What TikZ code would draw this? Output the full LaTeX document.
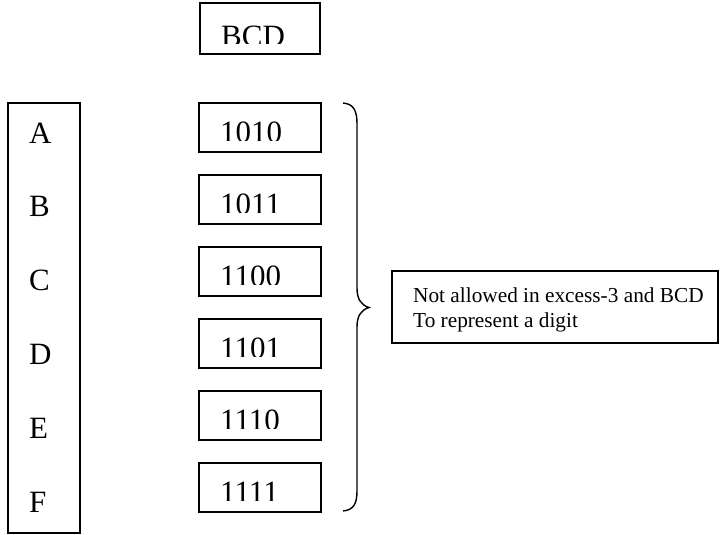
\documentclass[tikz,border=0pt]{standalone}
\usepackage{fontspec}
\setmainfont{Liberation Serif}
\begin{document}
\begin{tikzpicture}[x=1pt,y=-1pt,
  box/.style={draw,line width=1.4pt,rectangle,inner sep=0pt},
  bigtxt/.style={anchor=base west,inner sep=0pt,font=\fontsize{31}{37}\selectfont},
  smalltxt/.style={anchor=base west,inner sep=0pt,font=\fontsize{21.3}{25}\selectfont}]
\useasboundingbox (0,0) rectangle (720,535);
% BCD header box
\node[box,minimum width=120pt,minimum height=51pt] (bcdbox) at (260,28.5) {};
\begin{scope}
  \clip (200,3) rectangle (320,44);
  \node[bigtxt] (bcd) at (221,46.5) {BCD};
\end{scope}
% left letter column
\node[box,minimum width=72pt,minimum height=430pt] (letters) at (44,318) {};
\foreach \L [count=\i from 0] in {A,B,C,D,E,F}{
  \node[bigtxt] (let\L) at (29,143+73.8*\i) {\L};
}
% code boxes
\foreach \c/\t [count=\i] in {1010/103,1011/175,1100/247,1101/319,1110/391,1111/463}{
  \node[box,minimum width=122pt,minimum height=49pt] (code\i) at (260,\t+24.5) {};
  \begin{scope}
    \clip (199,\t) rectangle (321,\t+37);
    \node[bigtxt] (codetxt\i) at (220,\t+39.5) {\c};
  \end{scope}
}
% brace
\draw[line width=1.4pt] (343,103) .. controls (354,104) and (357,111) .. (357,124)
  -- (357,288) .. controls (357,299) and (361,305) .. (369,307.5)
  .. controls (361,310) and (357,316) .. (357,327)
  -- (357,491) .. controls (357,503) and (354,510) .. (343,511);
% note box
\node[box,minimum width=326pt,minimum height=72pt] (note) at (555,307) {};
\node[smalltxt] (note1) at (413,302.5) {Not allowed in excess-3 and BCD};
\node[smalltxt] (note2) at (413,327) {To represent a digit};
\end{tikzpicture}
\end{document}
